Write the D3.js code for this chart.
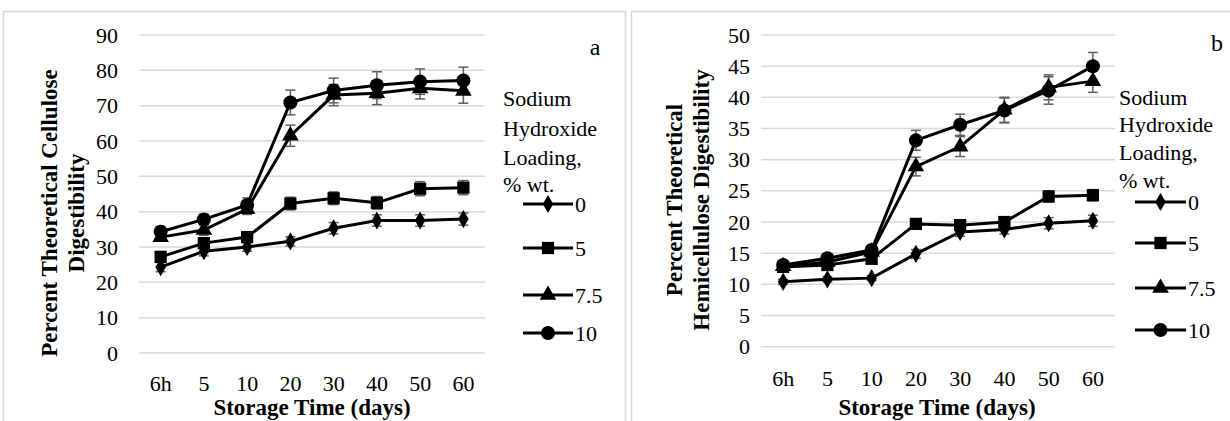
<!DOCTYPE html>
<html><head><meta charset="utf-8">
<script src="https://cdn.jsdelivr.net/npm/d3@7"></script>
<style>body{margin:0;background:#fff;} svg{display:block;} svg text{font-family:'Liberation Serif','Times New Roman',Times,serif !important;fill:#000;}</style>
</head><body>
<svg id="c" width="1230" height="421"></svg>
<script>
const categories = ["6h","5","10","20","30","40","50","60"];
const seriesNames = ["0","5","7.5","10"];
const legendTitle = ["Sodium","Hydroxide","Loading,","% wt."];

// Panel a: cellulose digestibility
const celluloseTicks = [0,10,20,30,40,50,60,70,80,90];
const cellulose0   = [24.3,28.8,30.0,31.6,35.3,37.5,37.5,37.9];
const cellulose5   = [27.2,31.1,32.8,42.3,43.8,42.5,46.5,46.8];
const cellulose75  = [32.8,34.8,40.7,61.5,73.0,73.5,74.9,74.2];
const cellulose10  = [34.3,37.8,41.9,70.9,74.3,75.8,76.8,77.1];
const celluloseErr0  = [1.3,1.3,1.2,1.3,1.6,1.6,1.6,1.7];
const celluloseErr5  = [1.5,1.5,1.5,1.8,1.8,1.8,2.0,2.0];
const celluloseErr75 = [1.0,1.5,1.5,3.0,3.0,3.2,3.0,3.5];
const celluloseErr10 = [1.5,1.5,2.0,3.5,3.5,3.8,3.6,3.8];

// Panel b: hemicellulose digestibility
const hemiTicks = [0,5,10,15,20,25,30,35,40,45,50];
const hemi0   = [10.4,10.8,11.0,14.9,18.4,18.8,19.8,20.2];
const hemi5   = [12.8,13.1,14.1,19.7,19.5,20.0,24.1,24.3];
const hemi75  = [12.9,13.6,15.2,28.9,32.1,38.0,41.6,42.6];
const hemi10  = [13.1,14.2,15.5,33.1,35.6,37.9,41.1,45.0];
const hemiErr0  = [0.4,0.4,0.4,0.7,0.7,0.7,0.9,0.9];
const hemiErr5  = [0.5,0.6,0.6,0.6,0.6,0.6,0.9,0.9];
const hemiErr75 = [0.5,0.6,0.6,1.5,1.6,2.0,2.0,1.8];
const hemiErr10 = [0.5,0.6,0.6,1.6,1.7,2.0,2.2,2.2];

const svg = d3.select("#c");
const markers = [d3.symbolDiamond, d3.symbolSquare, d3.symbolTriangle, d3.symbolCircle];
const markerSizes = [95, 150, 120, 155];
const FS = 22, TFS = 23;
const FF = "'Liberation Serif','Times New Roman',Times,serif";

function panel(o){
  const g = svg.append("g");
  g.append("rect").attr("x",o.frame[0]+0.5).attr("y",11.5).attr("width",o.frame[1]-o.frame[0]).attr("height",430)
    .attr("fill","none").attr("stroke","#d9d9d9").attr("stroke-width",1.5);
  const x = d3.scaleBand().domain(categories).range([o.x0,o.x1]);
  const y = d3.scaleLinear().domain([0,o.ticks[o.ticks.length-1]]).range([o.y0,o.y1]);
  g.append("g").selectAll("line").data(o.ticks).join("line")
    .attr("x1",o.x0).attr("x2",o.x1).attr("y1",d=>y(d)).attr("y2",d=>y(d))
    .attr("stroke","#d9d9d9").attr("stroke-width",1.5);
  const ya = d3.axisLeft(y).tickValues(o.ticks).tickSize(0).tickPadding(0);
  const yg = g.append("g").attr("transform",`translate(${o.tickRight},0)`).call(ya);
  yg.attr("font-family",FF).attr("font-size",FS);
  yg.select(".domain").remove();
  yg.selectAll("text").style("font-family",FF).style("font-size",FS+"px").attr("fill","#000");
  const xa = d3.axisBottom(x).tickSize(0).tickPadding(0);
  const xg = g.append("g").attr("transform",`translate(0,${o.xLabY})`).call(xa);
  xg.attr("font-family",FF).attr("font-size",FS);
  xg.select(".domain").remove();
  xg.selectAll("text").style("font-family",FF).style("font-size",FS+"px").attr("fill","#000");
  g.append("text").attr("x",o.xTitle).attr("y",415).attr("text-anchor","middle")
    .style("font-family",FF).style("font-size",TFS+"px").style("font-weight","bold").text("Storage Time (days)");
  o.yTitle.forEach((t,i)=>{
    g.append("text").attr("transform",`translate(${o.yTitleX[i]},${o.yTitleY}) rotate(-90)`)
      .attr("text-anchor","middle").attr("dy","0.35em")
      .style("font-family",FF).style("font-size",TFS+"px").style("font-weight","bold").text(t);
  });
  g.append("text").attr("x",o.letter[0]).attr("y",o.letter[1]).attr("text-anchor","middle").attr("dy","0.35em")
    .style("font-family",FF).style("font-size","24px").text(o.letterText);
  const cx = d=>x(d)+x.bandwidth()/2;
  o.series.forEach((vals,si)=>{
    const err = o.errs[si];
    const eg = g.append("g");
    vals.forEach((v,i)=>{
      const xx = cx(categories[i]);
      const lo = y(v-err[i]), hi = y(v+err[i]);
      eg.append("line").attr("x1",xx).attr("x2",xx).attr("y1",lo).attr("y2",hi).attr("stroke","#5f5f5f").attr("stroke-width",1.5);
      [lo,hi].forEach(yy=>eg.append("line").attr("x1",xx-5).attr("x2",xx+5).attr("y1",yy).attr("y2",yy).attr("stroke","#5f5f5f").attr("stroke-width",1.5));
    });
  });
  o.series.forEach((vals,si)=>{
    const line = d3.line().x((d,i)=>cx(categories[i])).y(d=>y(d));
    g.append("path").attr("d",line(vals)).attr("fill","none").attr("stroke","#000").attr("stroke-width",3);
    g.append("g").selectAll("path").data(vals).join("path")
      .attr("transform",(d,i)=>`translate(${cx(categories[i])},${y(d)})`)
      .attr("d",d3.symbol().type(markers[si]).size(markerSizes[si])).attr("fill","#000");
  });
  legendTitle.forEach((t,i)=>{
    g.append("text").attr("x",o.legX).attr("y",o.legTitleY[i]).attr("dy","0.35em")
      .style("font-family",FF).style("font-size",FS+"px").text(t);
  });
  seriesNames.forEach((n,i)=>{
    const yy = o.legY[i];
    g.append("line").attr("x1",o.legLine[0]).attr("x2",o.legLine[1]).attr("y1",yy).attr("y2",yy).attr("stroke","#000").attr("stroke-width",3);
    g.append("path").attr("transform",`translate(${(o.legLine[0]+o.legLine[1])/2},${yy})`)
      .attr("d",d3.symbol().type(markers[i]).size(markerSizes[i])).attr("fill","#000");
    g.append("text").attr("x",o.legLine[1]+2).attr("y",yy).attr("dy","0.35em")
      .style("font-family",FF).style("font-size",FS+"px").text(n);
  });
}

panel({
  frame:[3,625], x0:139, x1:485, y0:353, y1:35, ticks:celluloseTicks, tickRight:118, xLabY:375,
  xTitle:312, yTitle:["Percent  Theoretical Cellulose","Digestibility"], yTitleX:[49,76], yTitleY:213,
  letter:[595,47], letterText:"a",
  series:[cellulose0,cellulose5,cellulose75,cellulose10], errs:[celluloseErr0,celluloseErr5,celluloseErr75,celluloseErr10],
  legX:503, legTitleY:[98,128,157,184], legY:[204,248,295,333], legLine:[523,573]
});
panel({
  frame:[631,1240], x0:761, x1:1115, y0:346.7, y1:35, ticks:hemiTicks, tickRight:750, xLabY:370,
  xTitle:937, yTitle:["Percent Theoretical","Hemicellulose Digestibility"], yTitleX:[674,701], yTitleY:200,
  letter:[1217,43], letterText:"b",
  series:[hemi0,hemi5,hemi75,hemi10], errs:[hemiErr0,hemiErr5,hemiErr75,hemiErr10],
  legX:1119, legTitleY:[97,124,152,180], legY:[202,243,288,330], legLine:[1135,1186]
});
</script>
</body></html>
